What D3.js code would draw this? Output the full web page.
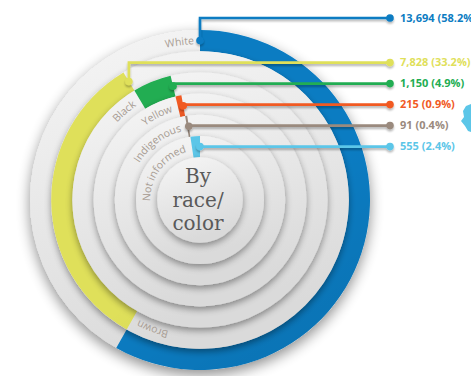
<!DOCTYPE html>
<html>
<head>
<meta charset="utf-8">
<script src="https://cdn.jsdelivr.net/npm/d3@7"></script>
<style>
  body { margin: 0; background: #fff; overflow: hidden; }
  svg { display: block; }
</style>
</head>
<body>
<script>
// data
const categories = ["White", "Brown", "Black", "Yellow", "Indigenous", "Not informed"];
const counts = [13694, 7828, 1150, 215, 91, 555];
const shares = [58.2, 33.2, 4.9, 0.9, 0.4, 2.4];
const colors = ["#0b7cc2", "#dfe05a", "#22ad52", "#f15a24", "#9a8a7e", "#5cc6e8"];
const centerLines = ["By", "race/", "color"];

const width = 471, height = 376;
const cx = 200, cy = 200;
const outerR = 170, coreR = 42.8;
const labelX = 400, dotX = 390;

const svg = d3.select("body").append("svg")
  .attr("width", width)
  .attr("height", height);

const defs = svg.append("defs");

// shadows
function shadow(id, std, dy, op) {
  let f = defs.append("filter").attr("id", id)
    .attr("x", "-30%").attr("y", "-30%").attr("width", "160%").attr("height", "160%");
  f.append("feGaussianBlur").attr("in", "SourceAlpha").attr("stdDeviation", std).attr("result", "b");
  f.append("feOffset").attr("in", "b").attr("dx", 0).attr("dy", dy).attr("result", "o");
  f.append("feComponentTransfer").attr("in", "o").attr("result", "s")
    .append("feFuncA").attr("type", "linear").attr("slope", op);
  let m = f.append("feMerge");
  m.append("feMergeNode").attr("in", "s");
  m.append("feMergeNode").attr("in", "SourceGraphic");
}
shadow("outer-shadow", 7, 5, 0.45);
shadow("disk-shadow", 3.5, 3, 0.4);
shadow("line-shadow", 1.2, 1.5, 0.3);

let g1 = defs.append("linearGradient").attr("id", "disk-fill")
  .attr("x1", 0).attr("y1", 0).attr("x2", 0.3).attr("y2", 1);
g1.append("stop").attr("offset", "0%").attr("stop-color", "#f6f6f6");
g1.append("stop").attr("offset", "100%").attr("stop-color", "#dadada");

let g2 = defs.append("linearGradient").attr("id", "arc-shade")
  .attr("gradientUnits", "userSpaceOnUse")
  .attr("x1", cx - outerR).attr("y1", cy - outerR).attr("x2", cx + outerR * 0.4).attr("y2", cy + outerR);
g2.append("stop").attr("offset", "0%").attr("stop-color", "#000").attr("stop-opacity", 0);
g2.append("stop").attr("offset", "100%").attr("stop-color", "#000").attr("stop-opacity", 0.2);

const n = categories.length;
const angle = d3.scaleLinear().domain([0, 100]).range([0, 2 * Math.PI]);
const radius = d3.scaleLinear().domain([0, n]).range([outerR, coreR]);
const ends = Array.from(d3.cumsum(shares));
const starts = ends.map((e, i) => e - shares[i]);
const fmt = d3.format(",");

const chart = svg.append("g").attr("transform", "translate(" + cx + "," + cy + ")");
const arc = d3.arc();

for (let i = 0; i < n; i++) {
  chart.append("circle")
    .attr("r", radius(i))
    .attr("fill", "url(#disk-fill)")
    .style("filter", i == 0 ? "url(#outer-shadow)" : "url(#disk-shadow)");
  let d = arc({
    innerRadius: radius(i + 1), outerRadius: radius(i),
    startAngle: angle(starts[i]), endAngle: angle(ends[i])
  });
  chart.append("path").attr("d", d).attr("fill", colors[i]);
  chart.append("path").attr("d", d).attr("fill", "url(#arc-shade)");

  // ring label, ending just before the arc start
  let rr = (radius(i) + radius(i + 1)) / 2 - 3.5;
  let a1 = angle(starts[i]) - 6 / rr;
  let a0 = a1 - 2.2;
  let p = d3.path();
  p.arc(0, 0, rr, a0 - Math.PI / 2, a1 - Math.PI / 2, false);
  defs.append("path").attr("id", "ring" + i)
    .attr("d", p.toString())
    .attr("transform", "translate(" + cx + "," + cy + ")");
  svg.append("text")
    .attr("font-family", "Open Sans, sans-serif")
    .attr("font-size", 10.5)
    .attr("fill", "#a89d94")
    .append("textPath")
    .attr("href", "#ring" + i)
    .attr("startOffset", "100%")
    .attr("text-anchor", "end")
    .text(categories[i]);
}

// center disk
chart.append("circle")
  .attr("r", coreR)
  .attr("fill", "url(#disk-fill)")
  .style("filter", "url(#disk-shadow)");

chart.selectAll("text.center")
  .data(centerLines)
  .join("text")
  .attr("class", "center")
  .attr("text-anchor", "middle")
  .attr("x", -2)
  .attr("y", (d, i) => -17 + i * 23.5)
  .attr("font-family", "DejaVu Serif, serif")
  .attr("font-size", 20)
  .attr("fill", "#5a5a5a")
  .text(d => d);

// leader lines
const markers = categories.map((c, i) => {
  let a = angle(i == 0 ? starts[i] : ends[i]);
  let r = (radius(i) + radius(i + 1)) / 2;
  return [cx + r * Math.sin(a), cy - r * Math.cos(a)];
});
const labelY = markers.map(m => m[1]);
for (let i = n - 2; i >= 0; i--) {
  labelY[i] = Math.min(labelY[i], labelY[i + 1] - 21);
}
labelY[0] = Math.min(labelY[0], cy - outerR - 12);

const leaders = svg.append("g").style("filter", "url(#line-shadow)");
for (let i = 0; i < n; i++) {
  let m = markers[i];
  leaders.append("path")
    .attr("d", "M" + m[0] + "," + m[1] + "V" + labelY[i] + "H" + dotX)
    .attr("fill", "none")
    .attr("stroke", colors[i])
    .attr("stroke-width", 2.6);
  leaders.append("circle").attr("cx", m[0]).attr("cy", m[1]).attr("r", 3.8).attr("fill", colors[i]);
  leaders.append("circle").attr("cx", dotX).attr("cy", labelY[i]).attr("r", 3.8).attr("fill", colors[i]);
  svg.append("text")
    .attr("x", labelX)
    .attr("y", labelY[i])
    .attr("dy", "0.35em")
    .attr("font-family", "Open Sans, sans-serif")
    .attr("font-weight", 700)
    .attr("font-size", 11)
    .attr("fill", colors[i])
    .text(fmt(counts[i]) + " (" + shares[i].toFixed(1) + "%)");
}

// bit of a map icon cut off at the right edge
svg.append("path")
  .attr("d", "M471,104 L466,106 L463,111 L464,117 L461,121 L465,126 L468,131 L471,132 Z")
  .attr("fill", "#5cc6e8");
</script>
</body>
</html>
